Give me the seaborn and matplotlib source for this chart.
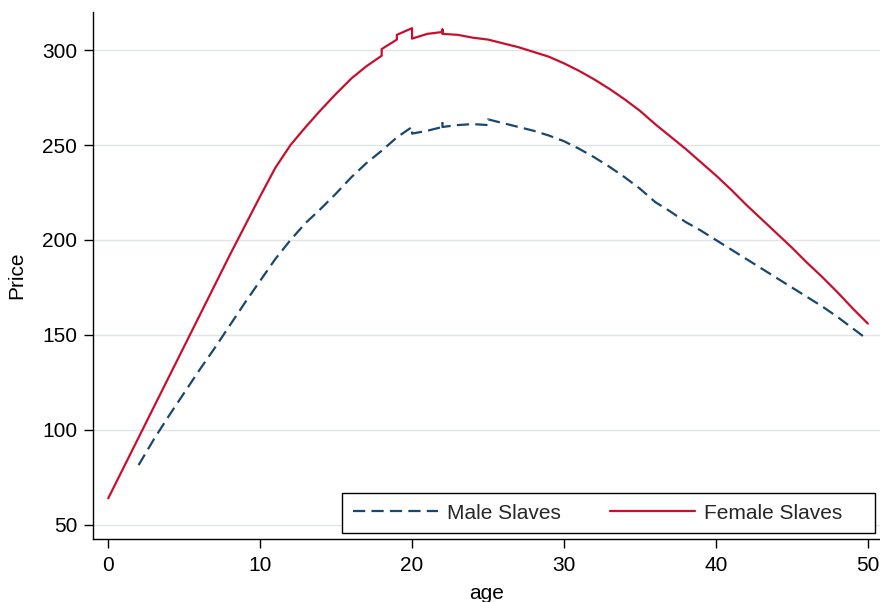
import matplotlib
matplotlib.use("Agg")
import matplotlib.pyplot as plt
from matplotlib.patches import Rectangle
import seaborn as sns
import pandas as pd

# ---- data ----
female_age = [0, 1, 2, 3, 4, 5, 6, 7, 8, 9, 10, 11, 12, 13, 14, 15, 16, 17,
              18, 18, 19, 19, 20, 20, 21, 22, 22, 22, 23, 24, 25, 26, 27, 28, 29, 30,
              31, 32, 33, 34, 35, 36, 37, 38, 39, 40, 41, 42, 43, 44, 45, 46, 47,
              48, 49, 50]
female_price = [64, 80, 96, 112, 128, 144, 160, 176, 192, 207.5, 223, 238, 250,
                259.5, 268.5, 277, 285, 291.5, 297, 300.5, 305.5, 308, 311.5, 306,
                308.5, 309.5, 310.8, 308.5, 308, 306.5, 305.5, 303.5, 301.5, 299,
                296.5, 293, 289, 284.5, 279.5, 274, 268, 261, 254.5, 248, 241, 234,
                226.5, 218.5, 211, 203.5, 196, 188, 180.5, 172.5, 164, 156]

male_age = [2, 3, 4, 5, 6, 7, 8, 9, 10, 11, 12, 13, 14, 15, 16, 17, 18, 19,
            20, 20, 21, 22, 22, 22, 23, 24, 25, 25, 26, 27, 28, 29, 30, 31, 32,
            33, 34, 35, 36, 37, 38, 39, 40, 41, 42, 43, 44, 45, 46, 47, 48, 49, 50]
male_price = [81.5, 95, 107.5, 119.5, 131.5, 143, 155, 167, 178.5, 190, 200,
              209, 216.5, 224.5, 233, 240.5, 247, 254, 259.5, 256, 257.5, 259.5,
              261.5, 259.5, 260.5, 261, 260.5, 263.5, 261.5, 259.5, 257.5, 255,
              252, 248, 243.5, 238.5, 233, 227, 220, 215, 209.5, 205, 200, 195,
              190, 185, 180, 175, 170, 165, 159.5, 153.5, 147.5]

x_ticks = [0, 10, 20, 30, 40, 50]
y_ticks = [50, 100, 150, 200, 250, 300]
series_labels = ["Male Slaves", "Female Slaves"]

male_df = pd.DataFrame({"age": male_age, "Price": male_price})
female_df = pd.DataFrame({"age": female_age, "Price": female_price})

sns.set_theme(style="white")
plt.rcParams["font.family"] = ["Liberation Sans", "DejaVu Sans"]

fig = plt.figure(figsize=(8.8, 6.02), dpi=100)
ax = fig.add_axes([0.1057, 0.1047, 0.8943, 0.8753])

NAVY = "#1a476f"
RED = "#c8102e"

sns.lineplot(data=male_df, x="age", y="Price", estimator=None, sort=False,
             color=NAVY, linewidth=1.6, ax=ax, label=series_labels[0])
ax.lines[-1].set_dashes((5.5, 2.8))
sns.lineplot(data=female_df, x="age", y="Price", estimator=None, sort=False,
             color=RED, linewidth=1.6, ax=ax, label=series_labels[1])

ax.set_xlim(-1, 50.8)
ax.set_ylim(42.6, 320)
ax.set_xticks(x_ticks)
ax.set_yticks(y_ticks)
ax.grid(axis="y", color="#dfe5e5", linewidth=1.0)
ax.grid(axis="x", visible=False)
ax.set_axisbelow(True)

for s in ["top", "right"]:
    ax.spines[s].set_visible(False)
for s in ["left", "bottom"]:
    ax.spines[s].set_color("black")
    ax.spines[s].set_linewidth(1.0)

ax.tick_params(axis="both", which="major", direction="out", length=6.5,
               width=1.0, color="black", labelsize=15, labelcolor="black",
               left=True, bottom=True)
ax.tick_params(axis="y", pad=5)
ax.tick_params(axis="x", pad=6)
ax.set_xlabel("age", fontsize=15, color="black", labelpad=6)
ax.set_ylabel("Price", fontsize=15, color="black", labelpad=11)

# legend: content anchored so that the (wider, Stata-like) box ends near the right edge
leg = ax.legend(loc="lower right", bbox_to_anchor=(0.9657, 0.011), borderaxespad=0,
                ncol=2, frameon=True, fancybox=False, fontsize=15,
                handlelength=4.1, columnspacing=2.35, handletextpad=0.43,
                borderpad=0.5)
leg.get_frame().set_visible(False)

fig.canvas.draw()
ext = leg.get_window_extent()
extra = 22  # px: Stata gives both legend columns the same width
W, H = fig.bbox.width, fig.bbox.height
frame = Rectangle((ext.x0 / W, ext.y0 / H), (ext.width + extra) / W, ext.height / H,
                  transform=fig.transFigure, facecolor="white", edgecolor="black",
                  linewidth=1.0, zorder=4.9)
fig.add_artist(frame)
leg.set_zorder(5)
fig.artists.remove(frame) if False else None
frame.remove()
ax.add_patch(Rectangle((ext.x0 / W, ext.y0 / H), (ext.width + extra) / W, ext.height / H,
                       transform=fig.transFigure, facecolor="white", edgecolor="black",
                       linewidth=1.0, zorder=4.9, clip_on=False))

fig.savefig("out.png", dpi=100)
